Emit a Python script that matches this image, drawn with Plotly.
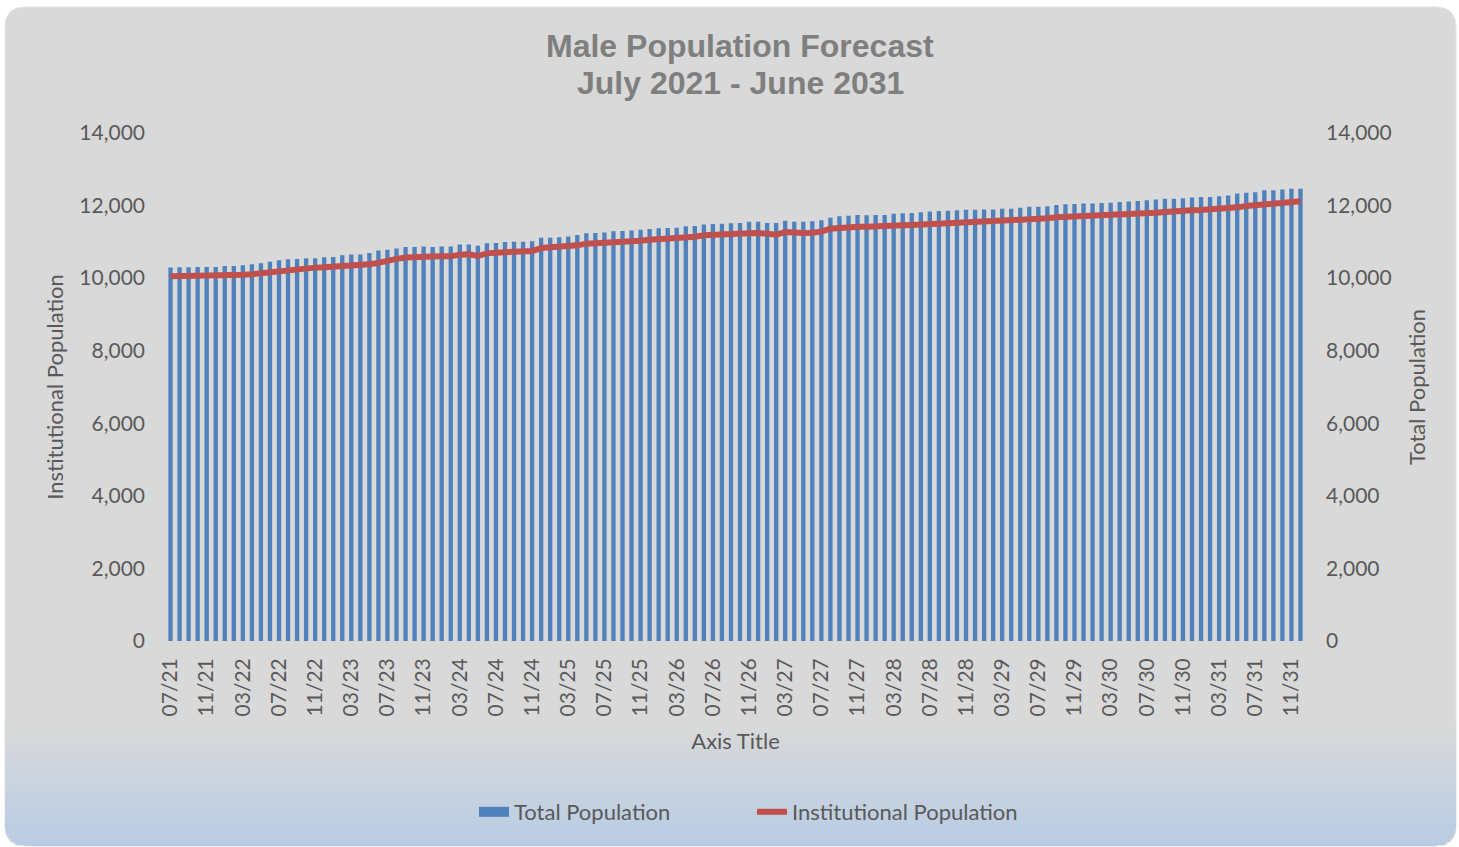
"""
Male population forecast chart: monthly total population (bars)
with institutional population (line), July 2021 onwards.
"""

import pandas as pd
import plotly.graph_objects as go

# Monthly categories, 07/21 .. 12/31
months = list(pd.date_range("2021-07-01", periods=126, freq="MS").strftime("%m/%y"))
tick_labels = months[::4]

total_population = [
    10290, 10300, 10300, 10305, 10305, 10305, 10335, 10335, 10355, 10380, 10410,
    10455, 10490, 10520, 10525, 10545, 10545, 10575, 10580, 10630, 10655, 10655,
    10695, 10765, 10785, 10820, 10860, 10860, 10870, 10860, 10870,
    10870, 10930, 10930, 10895, 10960, 10970, 10995, 11005, 11005, 11015, 11115,
    11115, 11125, 11150, 11190, 11235, 11245, 11255, 11290, 11300, 11315, 11335,
    11355, 11375, 11380, 11390, 11430, 11435, 11475, 11490, 11500,
    11510, 11520, 11555, 11555, 11520, 11520, 11585, 11555, 11555, 11565, 11595,
    11665, 11705, 11720, 11740, 11730, 11740, 11740, 11775, 11785, 11795, 11815,
    11840, 11850, 11860, 11870, 11885, 11885, 11895, 11895, 11915, 11915,
    11940, 11970, 11970, 11980, 12015, 12035, 12045, 12060, 12060, 12070, 12080,
    12100, 12115, 12125, 12145, 12165, 12190, 12190, 12200, 12225, 12235, 12235,
    12255, 12275, 12330, 12355, 12365, 12420, 12420, 12445, 12465, 12465,
]

institutional_population = [
    10050, 10052, 10054, 10056, 10058, 10060, 10070, 10080, 10095, 10110, 10140,
    10170, 10210, 10240, 10265, 10280, 10290, 10300, 10310, 10330, 10360, 10370,
    10385, 10420, 10490, 10530, 10570, 10590, 10595, 10598,
    10600, 10601, 10647, 10656, 10610, 10683, 10702, 10720, 10720, 10720, 10748,
    10830, 10840, 10850, 10877, 10904, 10950, 10959, 10968, 10996, 11005, 11023,
    11032, 11060, 11069, 11078, 11087, 11134, 11143, 11180, 11198, 11205,
    11207, 11216, 11235, 11244, 11207, 11198, 11272, 11244, 11244, 11253, 11281,
    11363, 11391, 11400, 11419, 11419, 11419, 11419, 11446, 11455, 11464, 11474,
    11501, 11510, 11519, 11528, 11538, 11547, 11556, 11556, 11574, 11584,
    11611, 11630, 11639, 11648, 11676, 11685, 11694, 11703, 11712, 11712, 11721,
    11749, 11768, 11786, 11795, 11804, 11823, 11850, 11859, 11868, 11878, 11887,
    11896, 11914, 11951, 11988, 12016, 12034, 12071, 12098, 12117, 12117,
]

title_lines = ["Male Population Forecast", "July 2021 - June 2031"]

W, H = 1459, 847
ML, MR, MT, MB = 166, 154, 133, 206
PW, PH = W - ML - MR, H - MT - MB

FONT = "Lato"
GREY = "#595959"
BG = "#d9d9d9"
BAR_BLUE = "#4f81bd"


def px_x(x):
    return (x - ML) / PW


def px_y(y):
    return (H - MB - y) / PH


def mix(c1, c2, t):
    a = [int(c1[i:i + 2], 16) for i in (1, 3, 5)]
    b = [int(c2[i:i + 2], 16) for i in (1, 3, 5)]
    return "#" + "".join(f"{round(p + (q - p) * t):02x}" for p, q in zip(a, b))


# Rounded chart-area background
left, top, right, bottom, r = 5, 7, 1456, 846, 20
path = (
    f"M {px_x(left + r)},{px_y(top)} L {px_x(right - r)},{px_y(top)} "
    f"Q {px_x(right)},{px_y(top)} {px_x(right)},{px_y(top + r)} "
    f"L {px_x(right)},{px_y(bottom - r)} "
    f"Q {px_x(right)},{px_y(bottom)} {px_x(right - r)},{px_y(bottom)} "
    f"L {px_x(left + r)},{px_y(bottom)} "
    f"Q {px_x(left)},{px_y(bottom)} {px_x(left)},{px_y(bottom - r)} "
    f"L {px_x(left)},{px_y(top + r)} "
    f"Q {px_x(left)},{px_y(top)} {px_x(left + r)},{px_y(top)} Z"
)
shapes = [dict(type="path", path=path, xref="paper", yref="paper", layer="below",
               fillcolor=BG, line=dict(color="#e4e4e4", width=1))]

# Gradient towards the bottom of the chart area
g0, step = 725, 3
for y in range(g0, bottom, step):
    t = (y - g0) / (bottom - g0)
    yc = y + step / 2
    inset = 0
    if yc > bottom - r:
        dy = yc - (bottom - r)
        inset = r - (max(r * r - dy * dy, 0)) ** 0.5
    shapes.append(dict(
        type="rect", xref="paper", yref="paper", layer="below",
        x0=px_x(left + inset), x1=px_x(right - inset),
        y0=px_y(min(y + step, bottom)), y1=px_y(y),
        fillcolor=mix(BG, "#b8cce4", t), line=dict(width=0),
    ))

fig = go.Figure()

fig.add_trace(go.Bar(
    x=months,
    y=total_population,
    name="Total Population",
    marker=dict(color=BAR_BLUE, line=dict(width=0)),
    yaxis="y",
    showlegend=False,
))

# legend swatch for the bars (wide flat block like the original)
fig.add_trace(go.Scatter(
    x=[None],
    y=[None],
    mode="lines",
    name="Total Population",
    line=dict(color=BAR_BLUE, width=13),
    yaxis="y",
))

fig.add_trace(go.Scatter(
    x=months,
    y=institutional_population,
    mode="lines",
    name="Institutional Population",
    line=dict(color="#c0504d", width=6),
    yaxis="y2",
))

axis_font = dict(family=FONT, size=21, color=GREY)
title_font = dict(family=FONT, size=22, color=GREY)

# two-line chart title, placed line by line
annotations = [
    dict(text=txt, x=px_x(740), y=px_y(yy), xref="paper", yref="paper",
         xanchor="center", yanchor="middle", showarrow=False,
         font=dict(family="Liberation Sans", size=32, color="#7f7f7f", weight="bold"))
    for txt, yy in zip(title_lines, [46, 83])
]

fig.update_layout(
    width=W,
    height=H,
    margin=dict(l=ML, r=MR, t=MT, b=MB),
    paper_bgcolor="white",
    plot_bgcolor="rgba(0,0,0,0)",
    shapes=shapes,
    annotations=annotations,
    bargap=0.52,
    xaxis=dict(
        type="category",
        tickmode="array",
        tickvals=tick_labels,
        ticktext=tick_labels,
        tickangle=-90,
        tickfont=axis_font,
        ticklen=0,
        ticklabelstandoff=12,
        showgrid=False,
        showline=False,
        zeroline=False,
        range=[-0.5, len(months) - 0.5],
        title=dict(text="Axis Title", font=title_font, standoff=18),
    ),
    yaxis=dict(
        side="right",
        range=[0, 14000],
        dtick=2000,
        tickformat=",",
        tickfont=axis_font,
        showgrid=False,
        zeroline=False,
        ticklabelstandoff=20,
        title=dict(text="Total Population", font=title_font, standoff=18),
    ),
    yaxis2=dict(
        overlaying="y",
        side="left",
        range=[0, 14000],
        dtick=2000,
        tickformat=",",
        tickfont=axis_font,
        showgrid=False,
        zeroline=False,
        ticklabelstandoff=20,
        title=dict(text="Institutional Population", font=title_font, standoff=9),
    ),
    legend=dict(
        orientation="h",
        x=px_x(752), xanchor="center",
        y=px_y(812), yanchor="middle",
        font=dict(family=FONT, size=22, color=GREY),
        bgcolor="rgba(0,0,0,0)",
        traceorder="normal",
        entrywidth=233,
    ),
    showlegend=True,
)

fig.write_html("out.html", config={"displayModeBar": False},
               post_script="document.body.style.margin='0';")
